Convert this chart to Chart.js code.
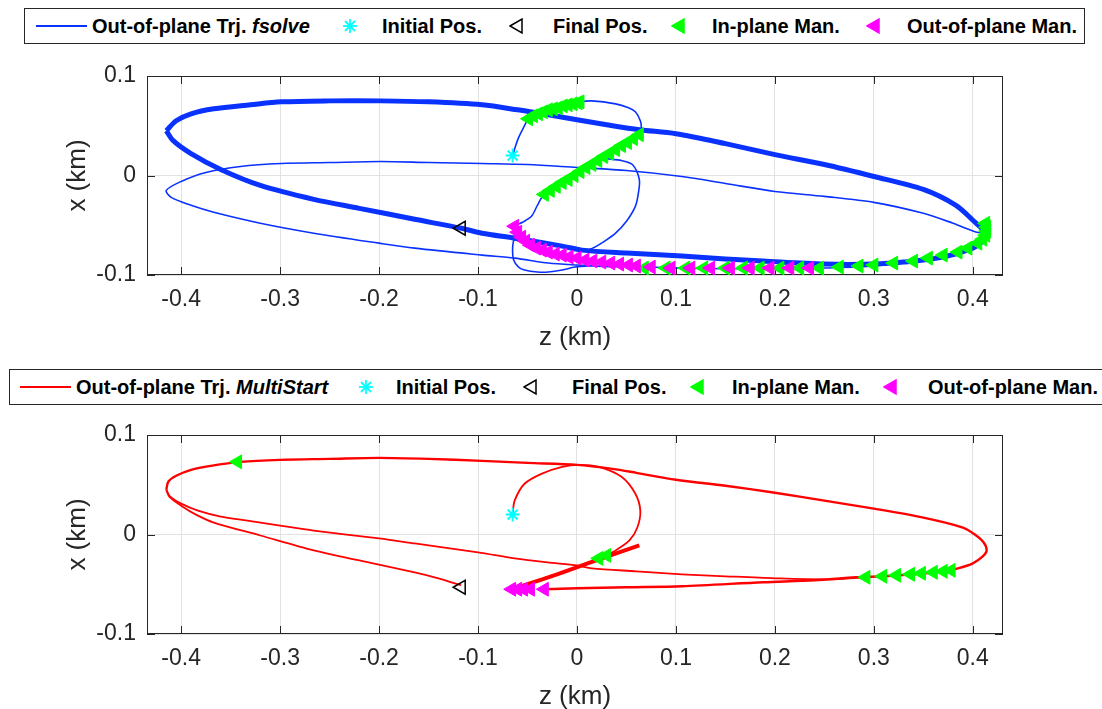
<!DOCTYPE html>
<html>
<head>
<meta charset="utf-8">
<script src="https://cdn.jsdelivr.net/npm/chart.js@4.4.1/dist/chart.umd.min.js"></script>
<style>
  body { margin: 0; width: 1102px; height: 709px; overflow: hidden; background: #fff; position: relative;
         font-family: 'Liberation Sans', Arial, Helvetica, sans-serif; }
  canvas { position: absolute; left: 0; }
  .legend { position: absolute; border: 1px solid #262626; background: #fff; box-sizing: border-box; }
  .legend .lbl { position: absolute; top: 0; font-weight: bold; font-size: 20px; color: #000; white-space: nowrap; }
  .legend svg { position: absolute; }
</style>
</head>
<body>
<div class="legend" id="legTop" style="left:24px; top:8px; width:1061px; height:36px;"></div>
<canvas id="chartTop" width="1102" height="310" style="top:50px"></canvas>
<div class="legend" id="legBottom" style="left:9px; top:369px; width:1110px; height:36px;"></div>
<canvas id="chartBottom" width="1102" height="310" style="top:409px"></canvas>
<script>
// axis ticks
var zTicks = [-0.4, -0.3, -0.2, -0.1, 0, 0.1, 0.2, 0.3, 0.4];
var zTickLabels = ['-0.4', '-0.3', '-0.2', '-0.1', '0', '0.1', '0.2', '0.3', '0.4'];
var xTicks = [-0.1, 0, 0.1];
var xTickLabels = ['-0.1', '0', '0.1'];

// shared markers  [z, x] in km
var initialPos = [[-0.065, 0.020]];
var finalPos = [[-0.117, -0.053]];

// ---- fsolve (top) ----
var fsolveThick = [
  [-0.415, 0.045], [-0.405, 0.055], [-0.39, 0.062], [-0.367, 0.067], [-0.33, 0.071], [-0.299, 0.074],
  [-0.25, 0.075], [-0.198, 0.075], [-0.15, 0.074], [-0.096, 0.071], [-0.06, 0.066], [-0.029, 0.061],
  [0, 0.056], [0.03, 0.051], [0.063, 0.046], [0.1, 0.042], [0.15, 0.032], [0.2, 0.021], [0.25, 0.011],
  [0.3, -0.001], [0.35, -0.014], [0.383, -0.03], [0.4, -0.045], [0.413, -0.058], [0.41, -0.066],
  [0.4, -0.073], [0.37, -0.082], [0.33, -0.087], [0.3, -0.089], [0.25, -0.089], [0.188, -0.086],
  [0.15, -0.084], [0.106, -0.081], [0.05, -0.078], [0.005, -0.075], [-0.015, -0.071], [-0.063, -0.063],
  [-0.096, -0.058], [-0.117, -0.053], [-0.164, -0.044], [-0.22, -0.033], [-0.266, -0.024], [-0.32, -0.01],
  [-0.36, 0.006], [-0.39, 0.022], [-0.408, 0.035], [-0.415, 0.045]
];
var fsolveThin = [
  [-0.065, 0.02], [-0.062, 0.03], [-0.059, 0.038], [-0.054, 0.048], [-0.049, 0.057], [-0.035, 0.064],
  [-0.02, 0.068], [-0.005, 0.072], [0.003, 0.074], [0.015, 0.075], [0.039, 0.072], [0.052, 0.068],
  [0.059, 0.064], [0.064, 0.055], [0.065, 0.048], [0.063, 0.041], [0.015, 0.011], [-0.033, -0.019],
  [-0.04, -0.03], [-0.046, -0.041], [-0.055, -0.047], [-0.063, -0.051], [-0.06, -0.057], [-0.052, -0.066],
  [-0.041, -0.073], [-0.029, -0.077], [-0.015, -0.08], [0, -0.083], [0.025, -0.087], [0.06, -0.091],
  [0.1, -0.093], [0.2, -0.094], [0.25, -0.093], [0.3, -0.091], [0.35, -0.085], [0.385, -0.077],
  [0.405, -0.068], [0.414, -0.058], [0.404, -0.057], [0.38, -0.048], [0.35, -0.038], [0.3, -0.027],
  [0.25, -0.021], [0.2, -0.016], [0.15, -0.008], [0.106, -0.001], [0.05, 0.005], [0, 0.008],
  [-0.05, 0.011], [-0.096, 0.012], [-0.15, 0.013], [-0.198, 0.014], [-0.25, 0.013], [-0.299, 0.012],
  [-0.34, 0.009], [-0.375, 0.003], [-0.4, -0.006], [-0.415, -0.015], [-0.41, -0.022], [-0.39, -0.03],
  [-0.367, -0.037], [-0.32, -0.048], [-0.266, -0.058], [-0.2, -0.068], [-0.164, -0.073], [-0.096, -0.08],
  [-0.063, -0.083], [-0.029, -0.088], [0, -0.09], [0.04, -0.092]
];
var fsolveInnerLoop = [
  [0.03, 0.017], [0.045, 0.015], [0.056, 0.011], [0.063, -0.004], [0.062, -0.018], [0.059, -0.031],
  [0.05, -0.046], [0.039, -0.058], [0.028, -0.066], [0.018, -0.072], [0.008, -0.076]
];
var fsolveLowLoop = [
  [-0.063, -0.06], [-0.065, -0.072], [-0.064, -0.085], [-0.059, -0.092], [-0.053, -0.095], [-0.04, -0.097],
  [-0.029, -0.097], [-0.015, -0.095], [-0.002, -0.092], [0.02, -0.09]
];
var fsolveInPlane = [
  [-0.049, 0.057], [-0.044, 0.06], [-0.039, 0.062], [-0.034, 0.064], [-0.029, 0.066], [-0.024, 0.067],
  [-0.019, 0.068], [-0.014, 0.07], [-0.009, 0.071], [-0.004, 0.072], [0.001, 0.073], [0.003, 0.074],
  [-0.033, -0.019], [-0.027, -0.015], [-0.021, -0.011], [-0.015, -0.007], [-0.009, -0.004], [-0.003, 0.0],
  [0.003, 0.004], [0.009, 0.008], [0.015, 0.011], [0.021, 0.015], [0.027, 0.019], [0.033, 0.022],
  [0.039, 0.026], [0.045, 0.03], [0.051, 0.033], [0.057, 0.037], [0.063, 0.041],
  [0.068, -0.093], [0.09, -0.093], [0.11, -0.093], [0.128, -0.093], [0.15, -0.093], [0.168, -0.093],
  [0.185, -0.093], [0.205, -0.093], [0.225, -0.093], [0.245, -0.093], [0.265, -0.092], [0.285, -0.091],
  [0.3, -0.09], [0.32, -0.088], [0.34, -0.086], [0.355, -0.083], [0.37, -0.08], [0.385, -0.077],
  [0.395, -0.073], [0.405, -0.068], [0.41, -0.064], [0.413, -0.06], [0.414, -0.056], [0.414, -0.052],
  [0.413, -0.048]
];
var fsolveOutPlane = [
  [-0.063, -0.051], [-0.06, -0.057], [-0.056, -0.062], [-0.052, -0.066], [-0.047, -0.07], [-0.041, -0.073],
  [-0.035, -0.075], [-0.029, -0.077], [-0.022, -0.079], [-0.015, -0.08], [-0.008, -0.082], [0, -0.083],
  [0.008, -0.085], [0.016, -0.086], [0.025, -0.087], [0.034, -0.088], [0.043, -0.089], [0.052, -0.09],
  [0.06, -0.091], [0.075, -0.092], [0.095, -0.093], [0.115, -0.093], [0.135, -0.093], [0.155, -0.093],
  [0.175, -0.093], [0.195, -0.093], [0.215, -0.093], [0.235, -0.093]
];

// ---- MultiStart (bottom) ----
var multiStartArc = [
  [-0.065, 0.02], [-0.063, 0.034], [-0.053, 0.051], [-0.036, 0.061], [-0.015, 0.068], [0.002, 0.07],
  [0.022, 0.068], [0.045, 0.058], [0.059, 0.041], [0.064, 0.024], [0.061, 0.007], [0.053, -0.006],
  [0.039, -0.016], [0.025, -0.023]
];
var multiStartThick = [[0.063, -0.011], [0.025, -0.024], [-0.02, -0.04], [-0.066, -0.055]];
var multiStartLoop = [
  [-0.032, -0.055], [0.0, -0.054], [0.05, -0.053], [0.106, -0.052], [0.188, -0.048], [0.24, -0.046],
  [0.282, -0.043], [0.31, -0.042], [0.34, -0.04], [0.37, -0.037], [0.385, -0.034], [0.4, -0.029],
  [0.41, -0.022], [0.414, -0.016], [0.411, -0.008], [0.402, 0.0], [0.39, 0.007], [0.35, 0.017],
  [0.3, 0.026], [0.25, 0.034], [0.2, 0.042], [0.15, 0.049], [0.1, 0.055], [0.06, 0.062], [0.036, 0.066],
  [0.0, 0.07], [-0.05, 0.072], [-0.096, 0.074], [-0.15, 0.076], [-0.2, 0.077], [-0.25, 0.076],
  [-0.3, 0.075], [-0.34, 0.073], [-0.37, 0.069], [-0.39, 0.065], [-0.405, 0.059], [-0.413, 0.053],
  [-0.415, 0.045]
];
var multiStartLineA = [
  [-0.415, 0.045], [-0.411, 0.038], [-0.4, 0.031], [-0.383, 0.024], [-0.36, 0.018], [-0.333, 0.014],
  [-0.3, 0.009], [-0.266, 0.004], [-0.2, -0.004], [-0.164, -0.009], [-0.1, -0.018], [-0.063, -0.024],
  [-0.03, -0.028], [0.0, -0.031], [0.015, -0.034], [0.06, -0.037], [0.106, -0.04], [0.15, -0.042],
  [0.2, -0.044], [0.255, -0.045], [0.29, -0.043]
];
var multiStartLineB = [
  [-0.415, 0.045], [-0.412, 0.038], [-0.4, 0.029], [-0.385, 0.02], [-0.367, 0.012], [-0.32, -0.001],
  [-0.266, -0.016], [-0.22, -0.026], [-0.164, -0.038], [-0.14, -0.044], [-0.117, -0.051]
];
var multiStartInPlane = [
  [-0.343, 0.073], [0.022, -0.024], [0.03, -0.021],
  [0.292, -0.043], [0.309, -0.042], [0.323, -0.041], [0.337, -0.04], [0.348, -0.039], [0.36, -0.038],
  [0.37, -0.037], [0.378, -0.036]
];
var multiStartOutPlane = [[-0.066, -0.055], [-0.06, -0.055], [-0.054, -0.055], [-0.047, -0.055], [-0.033, -0.055]];

function pts(arr) {
  return arr.map(function (p) { return { x: p[0], y: p[1] }; });
}

function lineSet(arr, color, width) {
  return { data: pts(arr), showLine: true, borderColor: color, borderWidth: width, pointRadius: 0, tension: 0.3 };
}

function markerSets(inPlane, outPlane) {
  return [
    { data: pts(initialPos), pointStyle: 'star', pointRadius: 7, borderColor: '#00ffff', pointBorderWidth: 2 },
    { data: pts(finalPos), pointStyle: 'triangle', rotation: -90, pointRadius: 8, borderColor: '#000',
      backgroundColor: 'rgba(0,0,0,0)', pointBorderWidth: 1.5 },
    { data: pts(outPlane), pointStyle: 'triangle', rotation: -90, pointRadius: 8, borderColor: '#ff00ff',
      backgroundColor: '#ff00ff', pointBorderWidth: 1 },
    { data: pts(inPlane), pointStyle: 'triangle', rotation: -90, pointRadius: 8, borderColor: '#00ff00',
      backgroundColor: '#00ff00', pointBorderWidth: 1 }
  ];
}

// MATLAB style box with inward ticks
var matlabBox = {
  id: 'matlabBox',
  beforeDatasetsDraw: function (chart) {
    var ctx = chart.ctx, a = chart.chartArea, sx = chart.scales.x, sy = chart.scales.y;
    ctx.save();
    ctx.strokeStyle = '#262626';
    ctx.lineWidth = 1;
    ctx.strokeRect(a.left + 0.5, a.top + 0.5, a.right - a.left - 1, a.bottom - a.top - 1);
    ctx.beginPath();
    sx.ticks.forEach(function (t) {
      var px = Math.round(sx.getPixelForValue(t.value)) + 0.5;
      ctx.moveTo(px, a.bottom); ctx.lineTo(px, a.bottom - 8);
      ctx.moveTo(px, a.top); ctx.lineTo(px, a.top + 8);
    });
    sy.ticks.forEach(function (t) {
      var py = Math.round(sy.getPixelForValue(t.value)) + 0.5;
      ctx.moveTo(a.left, py); ctx.lineTo(a.left + 8, py);
      ctx.moveTo(a.right, py); ctx.lineTo(a.right - 8, py);
    });
    ctx.stroke();
    ctx.restore();
  }
};

function makeChart(id, datasets) {
  var ctx = document.getElementById(id).getContext('2d');
  return new Chart(ctx, {
    type: 'scatter',
    data: { datasets: datasets },
    options: {
      responsive: false,
      animation: false,
      devicePixelRatio: 1,
      layout: { padding: { top: 26, right: 99, left: 0, bottom: 0 } },
      plugins: { legend: { display: false }, tooltip: { enabled: false } },
      scales: {
        x: {
          type: 'linear', min: -0.4345, max: 0.4305,
          afterBuildTicks: function (s) { s.ticks = zTicks.map(function (v) { return { value: v }; }); },
          afterFit: function (s) { s.height = 85; },
          ticks: { callback: function (v, i) { return zTickLabels[i]; }, font: { size: 23 }, color: '#262626', padding: 11, maxRotation: 0 },
          grid: { color: '#e2e2e2', drawTicks: false },
          border: { display: false },
          title: { display: true, text: 'z (km)', font: { size: 26 }, color: '#262626', padding: { top: 0, bottom: 7 } }
        },
        y: {
          type: 'linear', min: -0.1, max: 0.1,
          afterBuildTicks: function (s) { s.ticks = xTicks.map(function (v) { return { value: v }; }); },
          afterFit: function (s) { s.width = 147; },
          ticks: { callback: function (v, i) { return xTickLabels[i]; }, font: { size: 23 }, color: '#262626', padding: 11 },
          grid: { color: '#e2e2e2', drawTicks: false },
          border: { display: false },
          title: { display: true, text: 'x (km)', font: { size: 26 }, color: '#262626', padding: { top: 62, bottom: 0 } }
        }
      }
    },
    plugins: [matlabBox]
  });
}

Chart.defaults.font.family = "'Liberation Sans', Arial, Helvetica, sans-serif";

var blue = '#0a32ff';
var red = '#ff0000';

makeChart('chartTop', markerSets(fsolveInPlane, fsolveOutPlane).concat([
  lineSet(fsolveThick, blue, 5),
  lineSet(fsolveThin, blue, 1.6),
  lineSet(fsolveInnerLoop, blue, 1.6),
  lineSet(fsolveLowLoop, blue, 1.6)
]));

makeChart('chartBottom', markerSets(multiStartInPlane, multiStartOutPlane).concat([
  lineSet(multiStartArc, red, 1.8),
  lineSet(multiStartThick, red, 4),
  lineSet(multiStartLoop, red, 2.4),
  lineSet(multiStartLineA, red, 1.8),
  lineSet(multiStartLineB, red, 1.8)
]));

// legends (HTML)
var starSvg = '<svg width="16" height="16" viewBox="-8 -8 16 16"><g stroke="#00ffff" stroke-width="1.8">' +
  '<line x1="0" y1="-7" x2="0" y2="7"/><line x1="-7" y1="0" x2="7" y2="0"/>' +
  '<line x1="-5" y1="-5" x2="5" y2="5"/><line x1="-5" y1="5" x2="5" y2="-5"/></g></svg>';
function triSvg(fill, stroke) {
  return '<svg width="16" height="18" viewBox="-8 -9 16 18"><polygon points="-7,0 5,-7 5,7" fill="' + fill +
    '" stroke="' + stroke + '" stroke-width="1.5"/></svg>';
}

function buildLegend(id, color, solver, pos) {
  var el = document.getElementById(id);
  var h = el.offsetHeight - 2;
  var mid = h / 2;
  var html = '';
  html += '<div style="position:absolute;left:' + pos[0] + 'px;top:' + (mid - 1) + 'px;width:' + (pos[1] - pos[0]) +
    'px;height:2px;background:' + color + '"></div>';
  html += '<span class="lbl" style="left:' + pos[2] + 'px;line-height:' + h + 'px">Out-of-plane Trj. <i>' + solver + '</i></span>';
  html += '<span style="position:absolute;left:' + (pos[3] - 8) + 'px;top:' + (mid - 8) + 'px;line-height:0">' + starSvg + '</span>';
  html += '<span class="lbl" style="left:' + pos[4] + 'px;line-height:' + h + 'px">Initial Pos.</span>';
  html += '<span style="position:absolute;left:' + (pos[5] - 8) + 'px;top:' + (mid - 9) + 'px;line-height:0">' + triSvg('none', '#000') + '</span>';
  html += '<span class="lbl" style="left:' + pos[6] + 'px;line-height:' + h + 'px">Final Pos.</span>';
  html += '<span style="position:absolute;left:' + (pos[7] - 8) + 'px;top:' + (mid - 9) + 'px;line-height:0">' + triSvg('#00ff00', '#00ff00') + '</span>';
  html += '<span class="lbl" style="left:' + pos[8] + 'px;line-height:' + h + 'px">In-plane Man.</span>';
  html += '<span style="position:absolute;left:' + (pos[9] - 8) + 'px;top:' + (mid - 9) + 'px;line-height:0">' + triSvg('#ff00ff', '#ff00ff') + '</span>';
  html += '<span class="lbl" style="left:' + pos[10] + 'px;line-height:' + h + 'px">Out-of-plane Man.</span>';
  el.innerHTML = html;
}

buildLegend('legTop', blue, 'fsolve', [11, 62, 67, 325, 357, 492, 528, 654, 687, 849, 882]);
buildLegend('legBottom', red, 'MultiStart', [10, 61, 66, 356, 386, 521, 562, 688, 722, 881, 918]);
</script>
</body>
</html>
